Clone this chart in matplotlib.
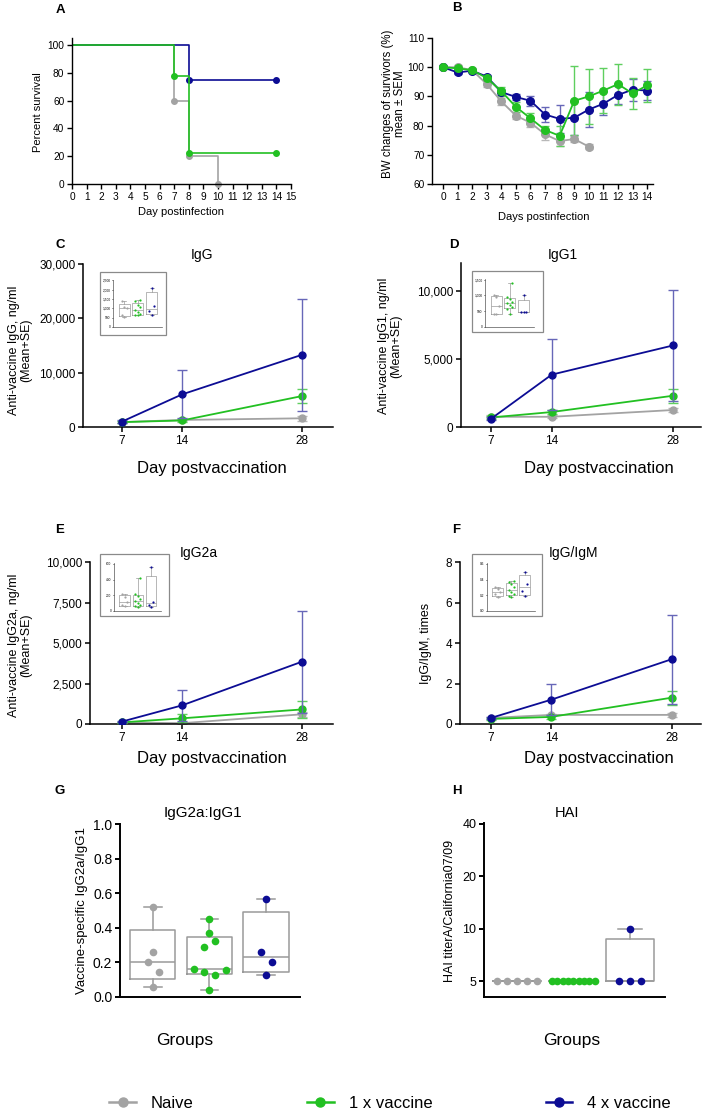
import numpy as np
import matplotlib
matplotlib.use('Agg')
import matplotlib.pyplot as plt
from matplotlib.patches import Rectangle
from matplotlib.lines import Line2D
from matplotlib.ticker import FuncFormatter, NullLocator

plt.rcParams['font.family'] = ['Liberation Sans', 'DejaVu Sans']

W, H = 708, 1114

groups = ['Naive', '1 x vaccine', '4 x vaccine']
colors = ['#a3a3a3', '#22c022', '#0c0c94']
err_colors = ['#b8b8b8', '#5fcf5f', '#6767b8']
box_gray = '#9a9a9a'

# A - survival (Kaplan-Meier steps)
surv_days = [[0, 7, 8, 10], [0, 7, 8, 14], [0, 8, 14]]
surv_pct = [[100, 60, 20, 0], [100, 77.8, 22.2, 22.2], [100, 75, 75]]

# B - body weight of survivors, mean +- SEM
bw_days = [list(range(11)), list(range(15)), list(range(15))]
bw_mean = [
    [100, 100, 99, 94.2, 88.3, 83.4, 81, 77, 74.7, 75.4, 72.8],
    [100, 99.6, 99, 96.3, 91.8, 86.4, 82.5, 78.5, 76.5, 88.5, 90, 92, 94.2, 91, 93.8],
    [100, 98.2, 98.8, 96.8, 91.5, 89.8, 88.5, 83.8, 82.3, 82.7, 85.5, 87.5, 90.5, 92.3, 92],
]
bw_sem = [
    [0.3, 0.8, 0.6, 1.0, 1.2, 1.3, 1.5, 1.8, 1.8, 1.0, 0.8],
    [0.3, 0.6, 0.5, 0.8, 1.5, 1.8, 1.8, 1.5, 3.5, 11.8, 9.5, 7.8, 7.0, 5.3, 5.7],
    [0.3, 0.6, 0.5, 0.6, 1.0, 1.0, 1.8, 2.6, 4.7, 5.8, 6.0, 4.0, 3.2, 3.8, 3.3],
]

# C-F - antibody kinetics, mean + SE
vacc_days = [7, 14, 28]
igg_mean = [[900, 1300, 1600], [900, 1200, 5700], [1000, 6000, 13300]]
igg_se = [[200, 200, 500], [150, 300, 1300], [200, 4400, 10300]]
igg1_mean = [[750, 750, 1250], [700, 1100, 2300], [600, 3850, 6000]]
igg1_se = [[100, 100, 150], [100, 150, 500], [100, 2600, 4100]]
igg2a_mean = [[100, 50, 600], [100, 350, 900], [150, 1150, 3850]]
igg2a_se = [[30, 30, 150], [30, 250, 500], [50, 950, 3150]]
ratio_mean = [[0.3, 0.45, 0.45], [0.25, 0.35, 1.3], [0.3, 1.2, 3.2]]
ratio_se = [[0.05, 0.05, 0.1], [0.05, 0.1, 0.35], [0.05, 0.78, 2.2]]

# insets - day 7 individual values
igg_pts = [[1400, 1050, 1000, 650, 550],
           [1450, 1380, 1200, 1080, 935, 790, 680, 660, 650],
           [2100, 1100, 850, 650]]
igg1_pts = [[1000, 960, 650, 410, 400],
            [1390, 950, 900, 800, 750, 700, 620, 560, 420],
            [1000, 480, 470, 460]]
igg2a_pts = [[220, 180, 115, 70, 60],
             [420, 210, 185, 155, 125, 100, 70, 60, 50],
             [560, 115, 80, 50]]
ratio_pts = [[0.3, 0.28, 0.24, 0.21, 0.18],
             [0.38, 0.37, 0.34, 0.31, 0.27, 0.24, 0.22, 0.19, 0.18],
             [0.5, 0.34, 0.26, 0.19]]

# G - IgG2a:IgG1, H - HAI titers
g_pts = [[0.52, 0.26, 0.20, 0.145, 0.06],
         [0.45, 0.37, 0.325, 0.29, 0.16, 0.145, 0.155, 0.125, 0.04],
         [0.565, 0.26, 0.205, 0.125]]
h_pts = [[5, 5, 5, 5, 5],
         [5, 5, 5, 5, 5, 5, 5, 5, 5],
         [10, 5, 5, 5]]

# horizontal scatter of the dots (layout only)
g_offsets = [[0, 0, -0.09, 0.11, 0],
             [0, 0, 0.1, -0.1, -0.28, -0.1, 0.29, 0.1, 0],
             [0, -0.09, 0.1, 0]]
h_offsets = [[-0.35, -0.18, 0, 0.18, 0.35],
             [-0.38, -0.285, -0.19, -0.095, 0, 0.095, 0.19, 0.285, 0.38],
             [0, -0.2, 0, 0.2]]


fig = plt.figure(figsize=(W / 100, H / 100), dpi=100)


def px_box(left, top, right, bottom):
    return [left / W, 1 - bottom / H, (right - left) / W, (bottom - top) / H]


def put_text(x, y, s, **kw):
    fig.text(x / W, 1 - y / H, s, ha='center', va='center', **kw)


def style_axes(ax, lw=1.0, size=7.3, length=3.5):
    for side in ['top', 'right']:
        ax.spines[side].set_visible(False)
    for side in ['left', 'bottom']:
        ax.spines[side].set_linewidth(lw)
    ax.tick_params(width=lw, length=length, labelsize=size, pad=2)


def box_stats(values):
    # GraphPad style quartiles
    q1, med, q3 = np.percentile(values, [25, 50, 75], method='weibull')
    return dict(med=med, q1=q1, q3=q3, whislo=min(values), whishi=max(values), fliers=[])


def draw_boxes(ax, pts, widths, capwidths, lw):
    props = dict(color=box_gray, linewidth=lw)
    ax.bxp([box_stats(p) for p in pts], positions=[1, 2, 3], widths=widths,
           capwidths=capwidths, showfliers=False, manage_ticks=False,
           boxprops=props, whiskerprops=props, capprops=props, medianprops=props)


def swarm(vals, step):
    order = np.argsort(vals)
    pattern = [0, -step, step]
    offs = np.zeros(len(vals))
    for k, idx in enumerate(order):
        offs[idx] = pattern[k % 3]
    return offs


comma = FuncFormatter(lambda v, p: f'{v:,.0f}')

# ---- A
ax = fig.add_axes(px_box(72, 38, 291, 184))
for i in [0, 2, 1]:
    ax.step(surv_days[i], surv_pct[i], where='post', color=colors[i], lw=1.2)
    ax.plot(surv_days[i][1:], surv_pct[i][1:], 'o', color=colors[i], ms=4, clip_on=False)
ax.set_xlim(0, 15)
ax.set_ylim(0, 105)
ax.set_xticks(range(16))
ax.set_yticks(range(0, 101, 20))
style_axes(ax)
put_text(60, 10, 'A', fontsize=9.5, fontweight='bold')
put_text(181, 212, 'Day postinfection', fontsize=8)
put_text(38, 112, 'Percent survival', fontsize=8, rotation=90)

# ---- B
ax = fig.add_axes(px_box(432, 38, 653, 184))
for i in [0, 2, 1]:
    ax.errorbar(bw_days[i], bw_mean[i], yerr=bw_sem[i], color=colors[i], ecolor=err_colors[i],
                marker='o', ms=5.5, lw=1.3, elinewidth=1, capsize=3, capthick=1)
ax.set_xlim(-0.75, 14.4)
ax.set_ylim(60, 110)
ax.set_xticks(range(15))
ax.set_yticks(range(60, 111, 10))
style_axes(ax)
put_text(457, 8, 'B', fontsize=9.5, fontweight='bold')
put_text(544, 217, 'Days postinfection', fontsize=8)
put_text(394, 104, 'BW changes of survivors (%)\nmean \u00b1 SEM', fontsize=8.3, rotation=90,
         linespacing=1.1)

# ---- C-F
line_panels = [
    dict(box=(83, 264, 333, 427), xlim=(2.45, 31.6), ylim=(0, 30000), yticks=[0, 10000, 20000, 30000],
         mean=igg_mean, se=igg_se, letter=('C', 60, 245), title=('IgG', 202, 255),
         xlab=(212, 469), ylab=('Anti-vaccine IgG, ng/ml\n(Mean+SE)', 20, 350),
         inset=(113, 280, 162, 327), frame=(100, 272, 166, 335), pts=igg_pts,
         iticks=[0, 500, 1000, 1500, 2000, 2500], ilim=2520, ifmt=comma),
    dict(box=(461, 263, 701, 427), xlim=(3.55, 31.2), ylim=(0, 12060), yticks=[0, 5000, 10000],
         mean=igg1_mean, se=igg1_se, letter=('D', 454, 245), title=('IgG1', 563, 255),
         xlab=(599, 469), ylab=('Anti-vaccine IgG1, ng/ml\n(Mean+SE)', 390, 346),
         inset=(485, 279, 534, 327), frame=(472, 271, 543, 332), pts=igg1_pts,
         iticks=[0, 500, 1000, 1500], ilim=1520, ifmt=comma),
    dict(box=(90, 562, 333, 724), xlim=(3.27, 31.6), ylim=(0, 10000), yticks=[0, 2500, 5000, 7500, 10000],
         mean=igg2a_mean, se=igg2a_se, letter=('E', 60, 530), title=('IgG2a', 199, 553),
         xlab=(212, 758), ylab=('Anti-vaccine IgG2a, ng/ml\n(Mean+SE)', 20, 645),
         inset=(114, 563, 161, 611), frame=(100, 554, 169, 616), pts=igg2a_pts,
         iticks=[0, 200, 400, 600], ilim=610, ifmt=comma),
    dict(box=(460, 562, 701, 724), xlim=(3.4, 31.4), ylim=(0, 8), yticks=[0, 2, 4, 6, 8],
         mean=ratio_mean, se=ratio_se, letter=('F', 456, 530), title=('IgG/IgM', 574, 553),
         xlab=(599, 758), ylab=('IgG/IgM, times', 426, 643),
         inset=(487, 563, 535, 611), frame=(472, 554, 542, 616), pts=ratio_pts,
         iticks=[0, 0.2, 0.4, 0.6], ilim=0.61, ifmt=FuncFormatter(lambda v, p: f'{v:.1f}')),
]

for p in line_panels:
    ax = fig.add_axes(px_box(*p['box']))
    for i in range(3):
        ax.errorbar(vacc_days, p['mean'][i], yerr=p['se'][i], color=colors[i], ecolor=err_colors[i],
                    marker='o', ms=5, lw=1.3, elinewidth=1, capsize=3.5, capthick=1, zorder=2 + i)
    ax.set_xlim(*p['xlim'])
    ax.set_ylim(*p['ylim'])
    ax.set_xticks(vacc_days)
    ax.set_yticks(p['yticks'])
    if p['ylim'][1] > 100:
        ax.yaxis.set_major_formatter(comma)
    style_axes(ax, lw=1.1, size=8.5)
    put_text(p['letter'][1], p['letter'][2], p['letter'][0], fontsize=9.5, fontweight='bold')
    put_text(p['title'][1], p['title'][2], p['title'][0], fontsize=10)
    put_text(p['xlab'][0], p['xlab'][1], 'Day postvaccination', fontsize=12)
    put_text(p['ylab'][1], p['ylab'][2], p['ylab'][0], fontsize=9, rotation=90, linespacing=1.1)

    # small inset with the day 7 distribution
    fl, ft, fr, fb = p['frame']
    fig.add_artist(Rectangle((fl / W, 1 - fb / H), (fr - fl) / W, (fb - ft) / H,
                             transform=fig.transFigure, fill=False, ec='#8a8a8a', lw=0.9))
    ins = fig.add_axes(px_box(*p['inset']))
    draw_boxes(ins, p['pts'], widths=0.8, capwidths=0.3, lw=0.5)
    for i in range(3):
        vals = p['pts'][i]
        ins.plot(np.full(len(vals), i + 1.0) + swarm(vals, 0.18), vals, 'o', color=colors[i],
                 ms=1.6, mew=0, zorder=3)
    ins.set_xlim(0.2, 3.75)
    ins.set_ylim(0, p['ilim'])
    ins.set_yticks(p['iticks'])
    ins.yaxis.set_major_formatter(p['ifmt'])
    ins.set_xticks([])
    style_axes(ins, lw=0.5, size=2.3, length=1)
    ins.tick_params(pad=0.8)
    ins.spines['left'].set_color('#555555')
    ins.spines['bottom'].set_color('#555555')

# ---- G
ax = fig.add_axes(px_box(120, 824, 300, 997))
draw_boxes(ax, g_pts, widths=0.8, capwidths=0.31, lw=1.1)
for i in range(3):
    ax.plot(np.array(g_offsets[i]) + i + 1, g_pts[i], 'o', color=colors[i], ms=5.5, mew=0,
            zorder=3, clip_on=False)
ax.set_xlim(0.42, 3.6)
ax.set_ylim(0, 1.0)
ax.set_yticks([0, 0.2, 0.4, 0.6, 0.8, 1.0])
ax.yaxis.set_major_formatter(FuncFormatter(lambda v, p: f'{v:.1f}'))
style_axes(ax, lw=1.4, size=10)
ax.tick_params(axis='x', bottom=False, labelbottom=False)
put_text(60, 791, 'G', fontsize=9.5, fontweight='bold')
put_text(203, 813, 'IgG2a:IgG1', fontsize=11)
put_text(185, 1040, 'Groups', fontsize=12.5)
put_text(82, 911, 'Vaccine-specific IgG2a/IgG1', fontsize=9.5, rotation=90)

# ---- H
ax = fig.add_axes(px_box(484, 823, 665, 997))
ax.set_yscale('log', base=2)
draw_boxes(ax, h_pts, widths=0.85, capwidths=0.43, lw=1.1)
for i in range(3):
    ax.plot(np.array(h_offsets[i]) + i + 1, h_pts[i], 'o', color=colors[i], ms=5.5, mew=0,
            zorder=3, clip_on=False)
ax.set_xlim(0.42, 3.62)
ax.set_ylim(4.06, 40.5)
ax.set_yticks([5, 10, 20, 40])
ax.set_yticklabels(['5', '10', '20', '40'])
ax.yaxis.set_minor_locator(NullLocator())
style_axes(ax, lw=1.4, size=9)
ax.tick_params(axis='x', bottom=False, labelbottom=False)
put_text(457, 791, 'H', fontsize=9.5, fontweight='bold')
put_text(567, 813, 'HAI', fontsize=10.5)
put_text(572, 1040, 'Groups', fontsize=12.5)
put_text(450, 911, 'HAI titerA/California07/09', fontsize=9, rotation=90)

# ---- legend
handles = [Line2D([], [], color=c, marker='o', ms=6.5, lw=1.8) for c in colors]
fig.legend(handles, groups, loc='center', bbox_to_anchor=(390 / W, 1 - 1103 / H), ncol=3,
           frameon=False, fontsize=12, handlelength=1.6, handletextpad=0.9, columnspacing=6.8)

fig.savefig('out.png', dpi=100)
